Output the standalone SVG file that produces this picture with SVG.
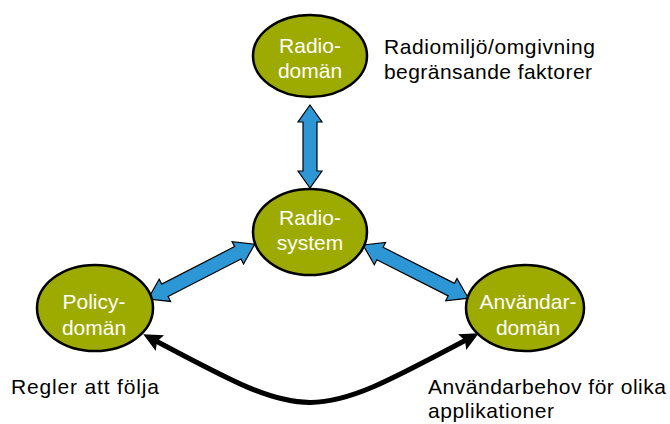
<svg xmlns="http://www.w3.org/2000/svg" width="670" height="424" viewBox="0 0 670 424">
<style>
.node{fill:#9DAA00;stroke:#000;stroke-width:2.5}
.nt{font-family:"Liberation Sans",Arial,sans-serif;font-size:21px;fill:#fff;text-anchor:middle}
.lbl{font-family:"Liberation Sans",Arial,sans-serif;font-size:21px;fill:#000}
.blue{fill:#2D96D5;stroke:#000;stroke-width:1.2;stroke-linejoin:miter}
.curve{fill:none;stroke:#000;stroke-width:5}
</style>
<defs>
<marker id="ah" markerUnits="userSpaceOnUse" markerWidth="20" markerHeight="18" viewBox="0 0 18 16" refX="4" refY="8" orient="auto-start-reverse">
<path d="M0,0 L17,8 L0,16 L3,8 z" fill="#000"/>
</marker>
</defs>
<g id="connectors">
<polygon class="blue" transform="translate(310,105) rotate(90)" points="0,0 17,-12 17,-7 66,-7 66,-12 83,0 66,12 66,7 17,7 17,12"/>
<polygon class="blue" transform="translate(148,299) rotate(-27.2)" points="0,0 19,-12.5 19,-7 101,-7 101,-12.5 120,0 101,12.5 101,7 19,7 19,12.5"/>
<polygon class="blue" transform="translate(363,245) rotate(26.8)" points="0,0 19,-12.5 19,-7 99,-7 99,-12.5 118,0 99,12.5 99,7 19,7 19,12.5"/>
<path class="curve" d="M156,341 C310,423 310,423 466,340" marker-start="url(#ah)" marker-end="url(#ah)"/>
</g>
<g id="radio-doman">
<ellipse class="node" cx="310" cy="56" rx="57" ry="41"/>
<text class="nt" x="310" y="53">Radio-</text>
<text class="nt" x="310" y="78">domän</text>
</g>
<g id="radio-system">
<ellipse class="node" cx="310" cy="232" rx="57" ry="43"/>
<text class="nt" x="310" y="225">Radio-</text>
<text class="nt" x="310" y="250">system</text>
</g>
<g id="policy-doman">
<ellipse class="node" cx="95" cy="308" rx="58" ry="43"/>
<text class="nt" x="94" y="309">Policy-</text>
<text class="nt" x="94" y="335">domän</text>
</g>
<g id="anvandar-doman">
<ellipse class="node" cx="525" cy="308" rx="59" ry="43"/>
<text class="nt" x="528" y="309">Användar-</text>
<text class="nt" x="528" y="335">domän</text>
</g>
<g id="labels">
<text class="lbl" x="384" y="54" textLength="211">Radiomiljö/omgivning</text>
<text class="lbl" x="384" y="79" textLength="208">begränsande faktorer</text>
<text class="lbl" x="11" y="394" textLength="148">Regler att följa</text>
<text class="lbl" x="428" y="394" textLength="238">Användarbehov för olika</text>
<text class="lbl" x="428" y="418" textLength="126">applikationer</text>
</g>
</svg>
